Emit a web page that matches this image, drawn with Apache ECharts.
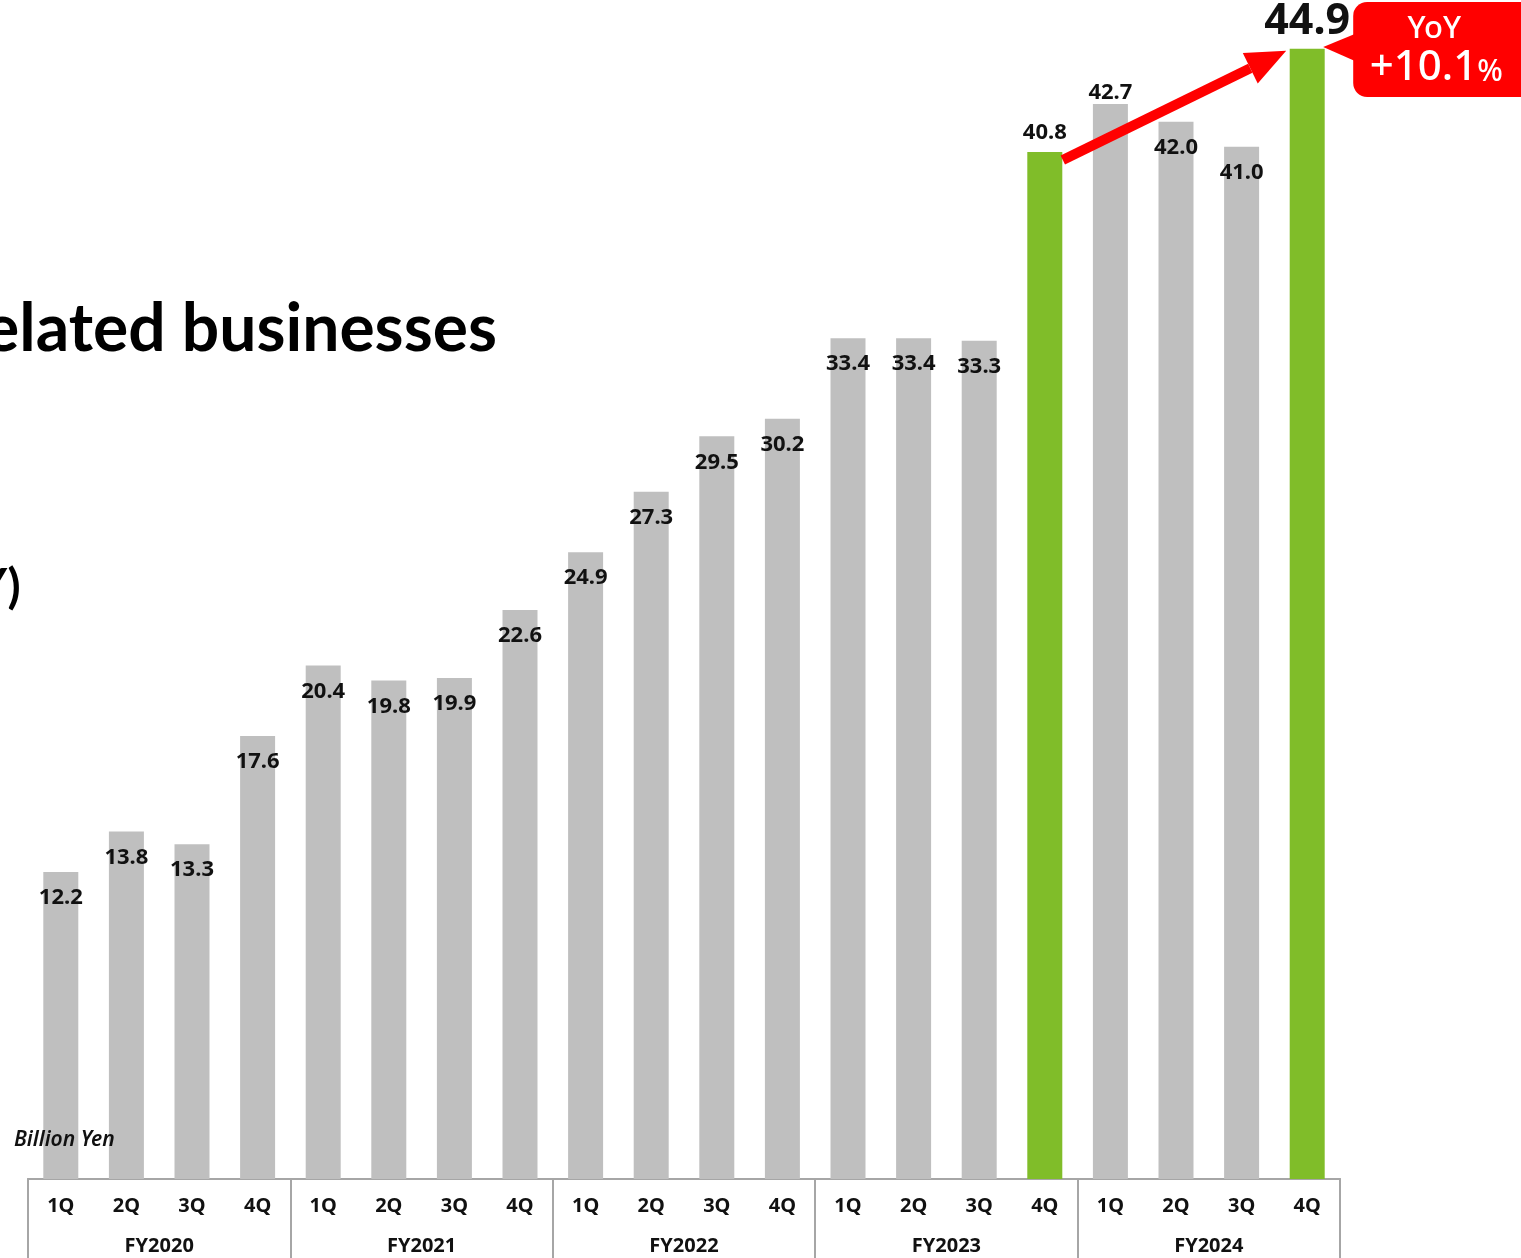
<!DOCTYPE html>
<html><head><meta charset="utf-8">
<script src="https://cdn.jsdelivr.net/npm/echarts@6/dist/echarts.min.js"></script>
<style>html,body{margin:0;padding:0;background:#fff}#c{width:1521px;height:1258px}</style>
</head><body><div id="c"></div>
<script>
const quarters = ['1Q','2Q','3Q','4Q','1Q','2Q','3Q','4Q','1Q','2Q','3Q','4Q','1Q','2Q','3Q','4Q','1Q','2Q','3Q','4Q'];
const fiscalYears = ['FY2020','FY2021','FY2022','FY2023','FY2024'];
const values = [12.2,13.8,13.3,17.6,20.4,19.8,19.9,22.6,24.9,27.3,29.5,30.2,33.4,33.4,33.3,40.8,42.7,42.0,41.0,44.9];
const highlighted = [15,19];
const yoyText = ['YoY','+10.1','%'];

const FONT = '"Noto Sans", sans-serif';
const GRAY = '#bfbfbf', GREEN = '#80bd29', AXIS = '#a6a6a6';

const seriesData = values.map((v,i)=>{
  const d = {value:v, itemStyle:{color: highlighted.includes(i)?GREEN:GRAY}};
  if (i===15) d.label = {position:'top', distance:8};
  if (i===16) d.label = {position:'top', distance:0};
  if (i===19) d.label = {position:'top', distance:5, fontSize:43, fontWeight:'bold'};
  return d;
});

const chart = echarts.init(document.getElementById('c'), null, {renderer:'canvas'});
chart.setOption({
  animation:false,
  backgroundColor:'#fff',
  grid:{left:28, right:181, top:21, bottom:79},
  xAxis:[{
    type:'category', data:quarters, position:'bottom',
    axisLine:{show:true, lineStyle:{color:AXIS, width:2}},
    axisTick:{show:false},
    axisLabel:{margin:17, fontSize:20, fontWeight:'bold', color:'#111', fontFamily:FONT}
  },{
    type:'category', data:fiscalYears, position:'bottom',
    axisLine:{show:true, lineStyle:{color:AXIS, width:2}},
    axisTick:{show:true, length:80, lineStyle:{color:AXIS, width:2}},
    axisLabel:{margin:57, fontSize:20, fontWeight:'bold', color:'#111', fontFamily:FONT}
  }],
  yAxis:{type:'value', min:0, max:46, show:false, splitLine:{show:false}},
  series:[{
    type:'bar', data:seriesData, barWidth:35, xAxisIndex:0,
    label:{show:true, position:'insideTop', distance:15, color:'#111', fontSize:22, fontWeight:'bold', fontFamily:FONT,
      formatter:p=>p.value.toFixed(1)}
  }]
});

const p15 = chart.convertToPixel({xAxisIndex:0,yAxisIndex:0},[15, values[15]]);
const p19 = chart.convertToPixel({xAxisIndex:0,yAxisIndex:0},[19, values[19]]);
const start = [p15[0]+18, p15[1]+8];
const tip = [p19[0]-21, p19[1]+2];
const dx = tip[0]-start[0], dy = tip[1]-start[1], L = Math.hypot(dx,dy);
const ux = dx/L, uy = dy/L, nx = -uy, ny = ux;
const base = [tip[0]-40*ux, tip[1]-40*uy];
const cx = p19[0]+46;
const graphicEls = [
  {type:'text', z:100, x:-16, y:330, style:{text:'elated businesses', fill:'#000', fontSize:66, fontWeight:'bold', fontFamily:'Lato, sans-serif', verticalAlign:'middle'}},
  {type:'text', z:100, x:-24, y:588, style:{text:'Y)', fill:'#000', fontSize:48, fontWeight:'bold', fontFamily:'Lato, sans-serif', verticalAlign:'middle'}},
  {type:'text', z:100, x:14, y:1140, style:{text:'Billion Yen', fill:'#111', fontSize:21, fontStyle:'italic', fontWeight:600, fontFamily:FONT, verticalAlign:'middle'}},
  {type:'line', z:50, shape:{x1:start[0], y1:start[1], x2:base[0], y2:base[1]}, style:{stroke:'#ff0000', lineWidth:10}},
  {type:'polygon', z:50, shape:{points:[tip,[base[0]+17*nx, base[1]+17*ny],[base[0]-17*nx, base[1]-17*ny]]}, style:{fill:'#ff0000'}},
  {type:'rect', z:60, shape:{x:cx, y:2, width:200, height:95, r:14}, style:{fill:'#ff0000'}},
  {type:'polygon', z:60, shape:{points:[[cx+4,33],[p19[0]+16,47],[cx+4,62]]}, style:{fill:'#ff0000'}},
  {type:'text', z:61, x:cx+81, y:29, style:{text:yoyText[0], fill:'#fff', align:'center', verticalAlign:'middle', fontSize:31, fontWeight:500, fontFamily:FONT}},
  {type:'text', z:61, x:cx+83, y:68, style:{text:'{a|'+yoyText[1]+'}{b|'+yoyText[2]+'}', align:'center', verticalAlign:'middle',
    rich:{a:{fill:'#fff', fontSize:42, fontWeight:500, fontFamily:FONT}, b:{fill:'#fff', fontSize:30, fontWeight:500, fontFamily:FONT, padding:[8,0,0,0]}}}}
];
chart.setOption({graphic:graphicEls});
</script></body></html>
